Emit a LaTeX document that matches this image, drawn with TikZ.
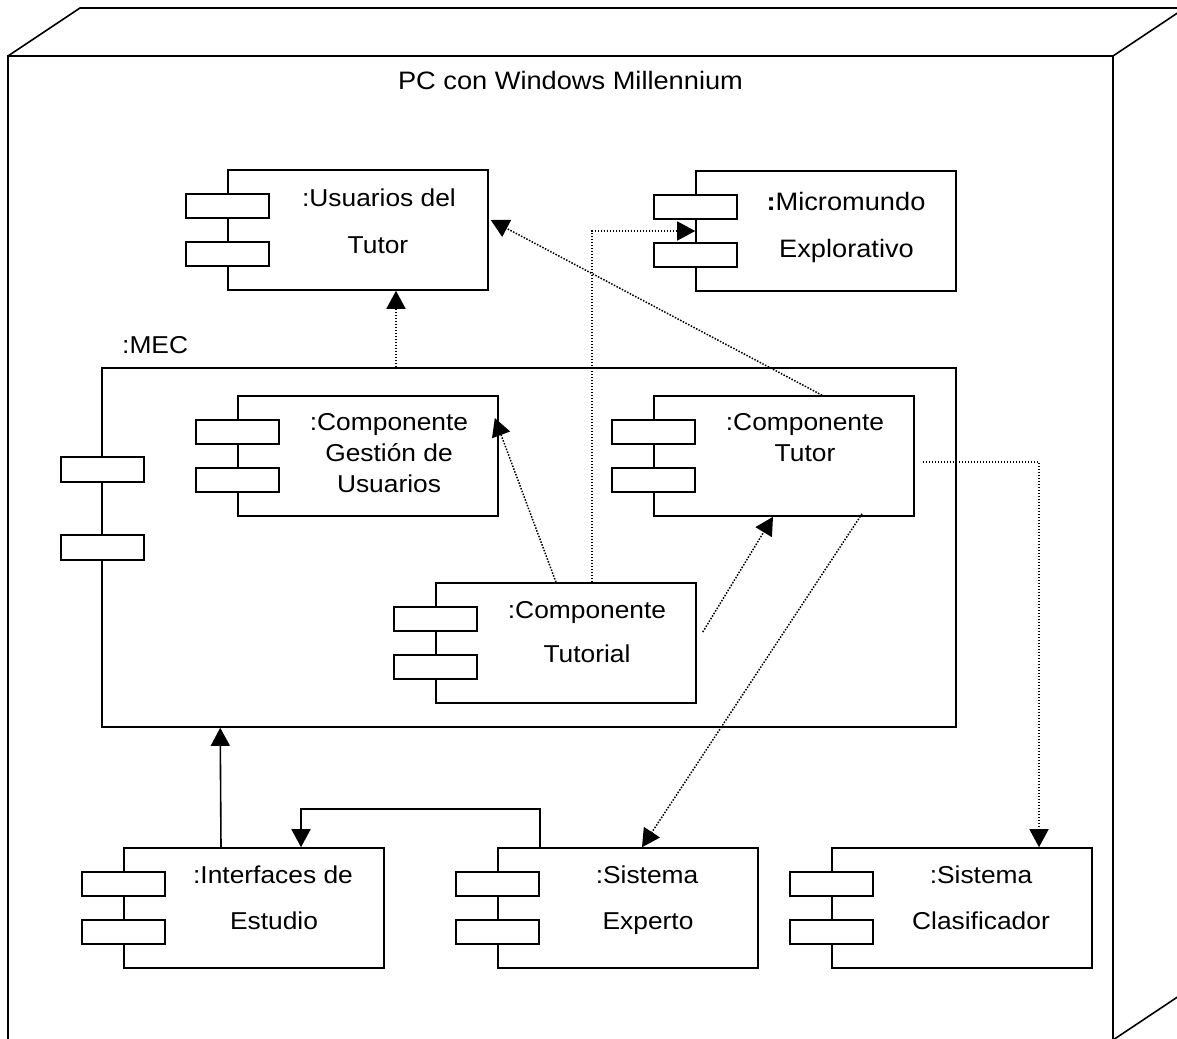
\documentclass[tikz,border=0pt]{standalone}
\usepackage{fontspec}
\setmainfont[FakeStretch=1.08]{Liberation Sans}
\usetikzlibrary{arrows.meta,calc}
\tikzset{
  frame/.style={line width=1.6pt},
  comp/.style={draw, line width=1.6pt, minimum width=260pt, minimum height=120pt, inner sep=0pt},
  port/.style={draw, line width=1.6pt, fill=white},
  lbl/.style={inner sep=0pt, anchor=base, font=\fontsize{24.4}{30}\selectfont},
  biglbl/.style={lbl, font=\fontsize{25.2}{30}\selectfont},
  dep/.style={line width=1.5pt, dash pattern=on 1.5pt off 1.5pt, -{Triangle[length=18pt,width=19pt]}},
  ctl/.style={line width=1.6pt, -{Triangle[length=18pt,width=19pt]}},
}
\newcommand\compports[1]{%
  \draw[port] ($(#1.north west)+(-41,24.5)$) rectangle ($(#1.north west)+(42,48.5)$);
  \draw[port] ($(#1.north west)+(-41,72.5)$) rectangle ($(#1.north west)+(42,96.5)$);}
\begin{document}
\begin{tikzpicture}[x=1pt,y=-1pt]
\clip (0,0) rectangle (1177,1038);
\fill[white] (0,0) rectangle (1177,1038);
% outer node (3D box)
\draw[frame] (8,56) rectangle (1113,1040);
\draw[frame] (8,56) -- (80,8) -- (1195,8);
\draw[frame] (1113,56) -- (1185,8) -- (1185,992) -- (1113,1040);
\node[biglbl] (title) at (570.5,90) {PC con Windows Millennium};
% MEC subsystem
\node[lbl, anchor=base west] (meclbl) at (122,353) {:MEC};
\node[draw, line width=1.6pt, minimum width=854pt, minimum height=359pt, inner sep=0pt] (mec) at (529,547.5) {};
\draw[port] ($(mec.north west)+(-40,90)$) rectangle ($(mec.north west)+(43,115)$);
\draw[port] ($(mec.north west)+(-40,168)$) rectangle ($(mec.north west)+(43,193)$);
% components
\node[comp] (usu) at (358,230) {};
\node[comp] (mic) at (826,231) {};
\node[comp] (ges) at (368,456) {};
\node[comp] (tut) at (784,456) {};
\node[comp] (tul) at (566,643) {};
\node[comp] (int) at (254,908) {};
\node[comp] (exp) at (628,908) {};
\node[comp] (cla) at (962,908) {};
\compports{usu}\compports{mic}\compports{ges}\compports{tut}
\compports{tul}\compports{int}\compports{exp}\compports{cla}
% labels
\node[lbl] (usu1) at (379,206) {:Usuarios del};
\node[lbl] (usu2) at (378,253) {Tutor};
\node[biglbl] (mic1) at (846,210) {{\bfseries :}Micromundo};
\node[biglbl] (mic2) at (846.5,257) {Explorativo};
\node[lbl] (ges1) at (389,430) {:Componente};
\node[lbl] (ges2) at (389,461.5) {Gestión de};
\node[lbl] (ges3) at (389,492.5) {Usuarios};
\node[lbl] (tut1) at (805,430) {:Componente};
\node[lbl] (tut2) at (805,461) {Tutor};
\node[lbl] (tul1) at (587,618) {:Componente};
\node[lbl] (tul2) at (587,662) {Tutorial};
\node[lbl] (int1) at (273,883) {:Interfaces de};
\node[lbl] (int2) at (274,929) {Estudio};
\node[lbl] (exp1) at (647,883) {:Sistema};
\node[lbl] (exp2) at (648,929) {Experto};
\node[lbl] (cla1) at (981,883) {:Sistema};
\node[lbl] (cla2) at (981,929) {Clasificador};
% dependencies
\draw[dep] ($(mec.north)+(-133,0)$) -- ($(usu.south)+(38,0)$);
\draw[dep] ($(tut.north)+(38,0)$) -- ($(usu.east)+(2,-10)$);
\draw[dep] ($(tul.north)+(26,0)$) |- (mic.west);
\draw[dep] ($(tul.north)+(-10,0)$) -- ($(ges.east)+(-4,-38)$);
\draw[dep] ($(tul.east)+(6,-11)$) -- ($(tut.south)+(-11,0)$);
\draw[dep] ($(tut.south)+(78,-3)$) -- ($(exp.north)+(14,0)$);
\draw[dep] ($(tut.east)+(8,6)$) -| ($(cla.north)+(77,0)$);
\draw[ctl] ($(int.north)+(-33,0)$) -- ($(mec.south west)+(119,0)$);
\draw[ctl] ($(exp.north)+(-88,0)$) -- ++(0,-38) -| ($(int.north)+(47,0)$);
\end{tikzpicture}
\end{document}
